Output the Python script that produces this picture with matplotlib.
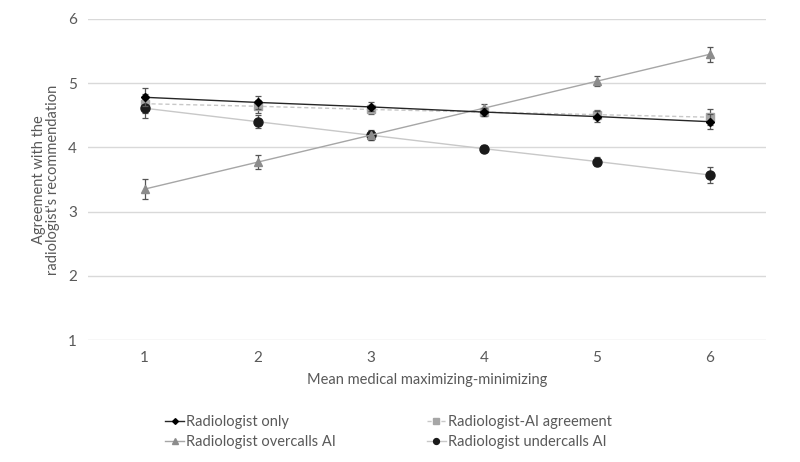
import matplotlib.pyplot as plt
from matplotlib.lines import Line2D

x = [1, 2, 3, 4, 5, 6]

rad_only = [4.78, 4.70, 4.63, 4.55, 4.48, 4.40]
rad_only_err = [0.14, 0.10, 0.07, 0.06, 0.08, 0.12]

ai_agree = [4.68, 4.64, 4.59, 4.55, 4.51, 4.47]
ai_agree_err = [0.15, 0.10, 0.07, 0.06, 0.07, 0.12]

overcalls = [3.35, 3.77, 4.19, 4.61, 5.03, 5.45]
overcalls_err = [0.15, 0.11, 0.08, 0.07, 0.08, 0.12]

undercalls = [4.61, 4.40, 4.19, 3.98, 3.78, 3.57]
undercalls_err = [0.15, 0.10, 0.07, 0.05, 0.07, 0.12]

plt.rcParams['font.family'] = ['Lato', 'DejaVu Sans']
txt = '#595959'

fig = plt.figure(figsize=(8, 4.62), dpi=100)
ax = fig.add_axes([0.11, 0.264, 0.848, 0.695])

ebk = dict(ecolor='#555555', elinewidth=0.9, capsize=2.5, capthick=0.9)

styles = {
    'agree': dict(color='#c8c8c8', ls=(0, (3, 2)), lw=1, marker='s', ms=6,
                  mfc='#a6a6a6', mec='#a6a6a6'),
    'under': dict(color='#c8c8c8', ls='-', lw=1, marker='o', ms=6.5,
                  mfc='#1a1a1a', mec='#1a1a1a'),
    'over': dict(color='#a6a6a6', ls='-', lw=1, marker='^', ms=6,
                 mfc='#8c8c8c', mec='#8c8c8c'),
    'only': dict(color='#262626', ls='-', lw=1, marker='D', ms=4.5,
                 mfc='black', mec='black'),
}

ax.errorbar(x, ai_agree, yerr=ai_agree_err, zorder=3, **styles['agree'], **ebk)
ax.errorbar(x, undercalls, yerr=undercalls_err, zorder=3, **styles['under'], **ebk)
ax.errorbar(x, overcalls, yerr=overcalls_err, zorder=3, **styles['over'], **ebk)
ax.errorbar(x, rad_only, yerr=rad_only_err, zorder=4, **styles['only'], **ebk)

ax.set_xlim(0.5, 6.5)
ax.set_ylim(1, 6)
ax.set_xticks(x)
ax.set_yticks([1, 2, 3, 4, 5, 6])
ax.grid(axis='y', color='#d9d9d9', lw=1)
ax.set_axisbelow(True)
for s in ax.spines.values():
    s.set_visible(False)
ax.tick_params(length=0, labelsize=11, labelcolor=txt, pad=8)

ax.set_xlabel('Mean medical maximizing-minimizing', fontsize=10.5, color=txt, labelpad=6)
ax.set_ylabel("Agreement with the\nradiologist's recommendation", fontsize=10.5,
              color=txt, labelpad=6, linespacing=1.0)

# legend, row by row: only / agreement, overcalls / undercalls
names = ['Radiologist only', 'Radiologist overcalls AI',
         'Radiologist-AI agreement', 'Radiologist undercalls AI']
keys = ['only', 'over', 'agree', 'under']
handles = []
for k in keys:
    st = dict(styles[k])
    st['ms'] = st['ms'] * 0.65
    handles.append(Line2D([], [], **st))
fig.legend(handles, names, ncol=2, loc='center left', bbox_to_anchor=(0.19, 0.065),
           frameon=False, fontsize=10.5, labelcolor=txt, columnspacing=6.2,
           handlelength=1.3, handletextpad=0.15, labelspacing=0.4)

fig.savefig('out.png', dpi=100)
